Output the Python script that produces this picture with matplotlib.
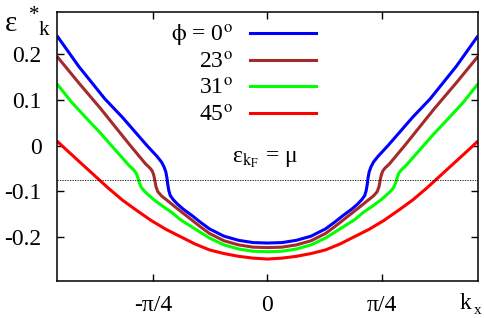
import numpy as np
import matplotlib
matplotlib.use('Agg')
import matplotlib.pyplot as plt

plt.rcParams['font.family'] = ['Liberation Serif', 'DejaVu Serif']
plt.rcParams['mathtext.fontset'] = 'stix'

# dispersion curves eps*_k vs k_x (for k_x >= 0, curves are symmetric)
kx_0 = [0.0, 0.10, 0.20, 0.30, 0.40, 0.46, 0.52, 0.58, 0.62, 0.65, 0.67, 0.68, 0.687, 0.693,
        0.700, 0.712, 0.73, 0.76, 0.83, 1.00, 1.12, 1.30, 1.45]
eps_0 = [-0.213, -0.212, -0.207, -0.198, -0.182, -0.168, -0.153, -0.139, -0.128, -0.118, -0.109,
         -0.098, -0.085, -0.070, -0.058, -0.047, -0.036, -0.024, 0.000, 0.062, 0.102, 0.173, 0.240]

kx_23 = [0.0, 0.10, 0.20, 0.30, 0.40, 0.46, 0.52, 0.58, 0.64, 0.69, 0.73, 0.755, 0.768, 0.776,
         0.784, 0.795, 0.81, 0.84, 0.95, 1.15, 1.30, 1.45]
eps_23 = [-0.223, -0.222, -0.217, -0.208, -0.192, -0.178, -0.163, -0.148, -0.133, -0.120, -0.110,
          -0.101, -0.090, -0.076, -0.064, -0.055, -0.049, -0.040, 0.002, 0.081, 0.137, 0.195]

kx_31 = [0.0, 0.10, 0.20, 0.30, 0.40, 0.46, 0.53, 0.60, 0.66, 0.72, 0.78, 0.82, 0.85, 0.87,
         0.882, 0.892, 0.905, 0.925, 0.95, 1.05, 1.15, 1.242, 1.35, 1.45]
eps_31 = [-0.232, -0.231, -0.226, -0.217, -0.202, -0.190, -0.176, -0.162, -0.146, -0.133, -0.119,
          -0.108, -0.099, -0.091, -0.082, -0.071, -0.060, -0.052, -0.045, -0.009, 0.027, 0.058,
          0.095, 0.135]

kx_45 = [0.0, 0.10, 0.20, 0.30, 0.40, 0.50, 0.60, 0.70, 0.80, 0.90, 1.00, 1.10, 1.20, 1.30,
         1.40, 1.45]
eps_45 = [-0.248, -0.246, -0.242, -0.236, -0.228, -0.215, -0.199, -0.183, -0.164, -0.142, -0.119,
          -0.092, -0.063, -0.034, -0.005, 0.010]

mu = -0.075

labels = ['$\\mathrm{\\phi}$ = 0$^{\\rm o}$', '23$^{\\rm o}$', '31$^{\\rm o}$', '45$^{\\rm o}$']
colors = ['#0000ff', '#a52a2a', '#00ff00', '#ff0000']


def mirror(kx, eps):
    # both halves of the symmetric curve
    kx = np.asarray(kx)
    eps = np.asarray(eps)
    return np.concatenate([-kx[::-1], kx[1:]]), np.concatenate([eps[::-1], eps[1:]])


fig = plt.figure(figsize=(4.85, 3.18), dpi=100)
ax = fig.add_axes([57 / 485, 1 - 281 / 318, 421 / 485, 269 / 318])

for (kx, eps), col in zip([(kx_0, eps_0), (kx_23, eps_23), (kx_31, eps_31), (kx_45, eps_45)], colors):
    x, y = mirror(kx, eps)
    ax.plot(x, y, color=col, lw=2.2, solid_joinstyle='round', solid_capstyle='butt')

ax.axhline(mu, color='black', lw=0.6, ls=(0, (1.5, 1.5)))
ax.text(-0.02, -0.037, 'ε$_{\\mathrm{k_F}}$ = μ', ha='center', va='baseline', fontsize=17)

# legend drawn by hand: text right aligned, sample line to the right
for i, (lab, col) in enumerate(zip(labels, colors)):
    yy = 0.922 - i * 0.099
    ax.plot([0.458, 0.615], [yy, yy], color=col, lw=2.2, transform=ax.transAxes)
    ax.text(0.418, yy - 0.012, lab, ha='right', va='center', fontsize=17, transform=ax.transAxes)

ax.set_xlim(-1.45, 1.45)
ax.set_ylim(-0.296, 0.292)
ax.set_xticks([-np.pi / 4, 0, np.pi / 4])
ax.set_xticklabels(['-π/4', '0', 'π/4'])
ax.set_yticks([-0.2, -0.1, 0, 0.1, 0.2])
ax.set_yticklabels(['-0.2', '-0.1', '0', '0.1', '0.2'])
ax.tick_params(direction='in', length=5, width=1, top=True, right=True, labelsize=17)
ax.tick_params(axis='y', pad=11)
ax.tick_params(axis='x', pad=10)
for s in ax.spines.values():
    s.set_linewidth(1.1)

# axis labels placed like the original
fig.text(5 / 485, 1 - 31 / 318, 'ε', fontsize=21, ha='left', va='baseline')
fig.text(29 / 485, 1 - 20 / 318, '*', fontsize=15, ha='left', va='baseline')
fig.text(39 / 485, 1 - 35 / 318, 'k', fontsize=15, ha='left', va='baseline')
fig.text(460 / 485, 1 - 309 / 318, 'k', fontsize=17, ha='left', va='baseline')
fig.text(474 / 485, 1 - 314 / 318, 'x', fontsize=11, ha='left', va='baseline')

fig.savefig('out.png', dpi=100)
